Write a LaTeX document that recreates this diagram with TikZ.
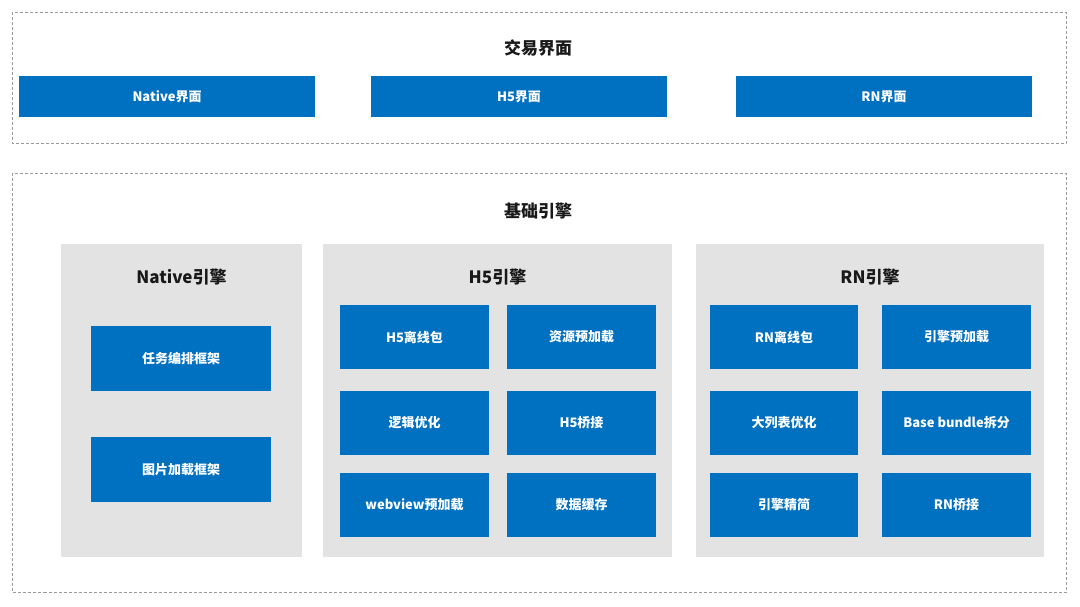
\documentclass[tikz,border=0pt]{standalone}
\usepackage{fontspec}
\setmainfont{Noto Sans CJK SC}
\usepackage{tikz}
\usepackage{xcolor}
\usetikzlibrary{positioning}
\definecolor{boxblue}{HTML}{0070C0}
\definecolor{panelgray}{HTML}{E3E3E3}
\definecolor{framegray}{HTML}{9A9A9A}
\begin{document}
\begin{tikzpicture}[x=1pt, y=-1pt,
    frame/.style={draw=framegray, line width=0.9pt, dash pattern=on 3pt off 2pt},
    panel/.style={fill=panelgray, inner sep=0pt},
    blk/.style={fill=boxblue, text=white, inner sep=0pt, font=\fontsize{13}{15}\selectfont\bfseries},
    title/.style={text=black!90, font=\fontsize{17}{20}\selectfont\bfseries}]
        \useasboundingbox (0,0) rectangle (1080,606);
        % upper layer
        \draw[frame] (12.5,12) rectangle (1066,143.5);
        \node[title] at (538,48) (trade) {交易界面};
        \node[blk, minimum width=296pt, minimum height=41pt] at (167,96.5) (uiNative) {Native界面};
        \node[blk, minimum width=296pt, minimum height=41pt] at (519,96.5) (uiH5) {H5界面};
        \node[blk, minimum width=296pt, minimum height=41pt] at (884,96.5) (uiRN) {RN界面};
        % lower layer
        \draw[frame] (12.5,173) rectangle (1066,592);
        \node[title] at (538,211) (base) {基础引擎};
        \node[panel, minimum width=241pt, minimum height=313pt] at (181.5,400.5) (pNative) {};
        \node[panel, minimum width=349pt, minimum height=313pt] at (497.5,400.5) (pH5) {};
        \node[panel, minimum width=348pt, minimum height=313pt] at (870,400.5) (pRN) {};
        \node[title] at (181.5,277) (tNative) {Native引擎};
        \node[title] at (497.5,277) (tH5) {H5引擎};
        \node[title] at (870,277) (tRN) {RN引擎};
        % Native engine
        \node[blk, minimum width=180pt, minimum height=65pt] at (181,358.5) (n1) {任务编排框架};
        \node[blk, minimum width=180pt, minimum height=65pt] at (181,469.5) (n2) {图片加载框架};
        % H5 engine
        \node[blk, minimum width=149pt, minimum height=64pt] at (414.5,337) (h1) {H5离线包};
        \node[blk, minimum width=149pt, minimum height=64pt] at (581.5,337) (h2) {资源预加载};
        \node[blk, minimum width=149pt, minimum height=64pt] at (414.5,423) (h3) {逻辑优化};
        \node[blk, minimum width=149pt, minimum height=64pt] at (581.5,423) (h4) {H5桥接};
        \node[blk, minimum width=149pt, minimum height=64pt] at (414.5,505) (h5) {webview预加载};
        \node[blk, minimum width=149pt, minimum height=64pt] at (581.5,505) (h6) {数据缓存};
        % RN engine
        \node[blk, minimum width=148pt, minimum height=64pt] at (784,337) (r1) {RN离线包};
        \node[blk, minimum width=149pt, minimum height=64pt] at (956.5,337) (r2) {引擎预加载};
        \node[blk, minimum width=148pt, minimum height=64pt] at (784,423) (r3) {大列表优化};
        \node[blk, minimum width=149pt, minimum height=64pt] at (956.5,423) (r4) {Base bundle拆分};
        \node[blk, minimum width=148pt, minimum height=64pt] at (784,505) (r5) {引擎精简};
        \node[blk, minimum width=149pt, minimum height=64pt] at (956.5,505) (r6) {RN桥接};
\end{tikzpicture}
\end{document}
